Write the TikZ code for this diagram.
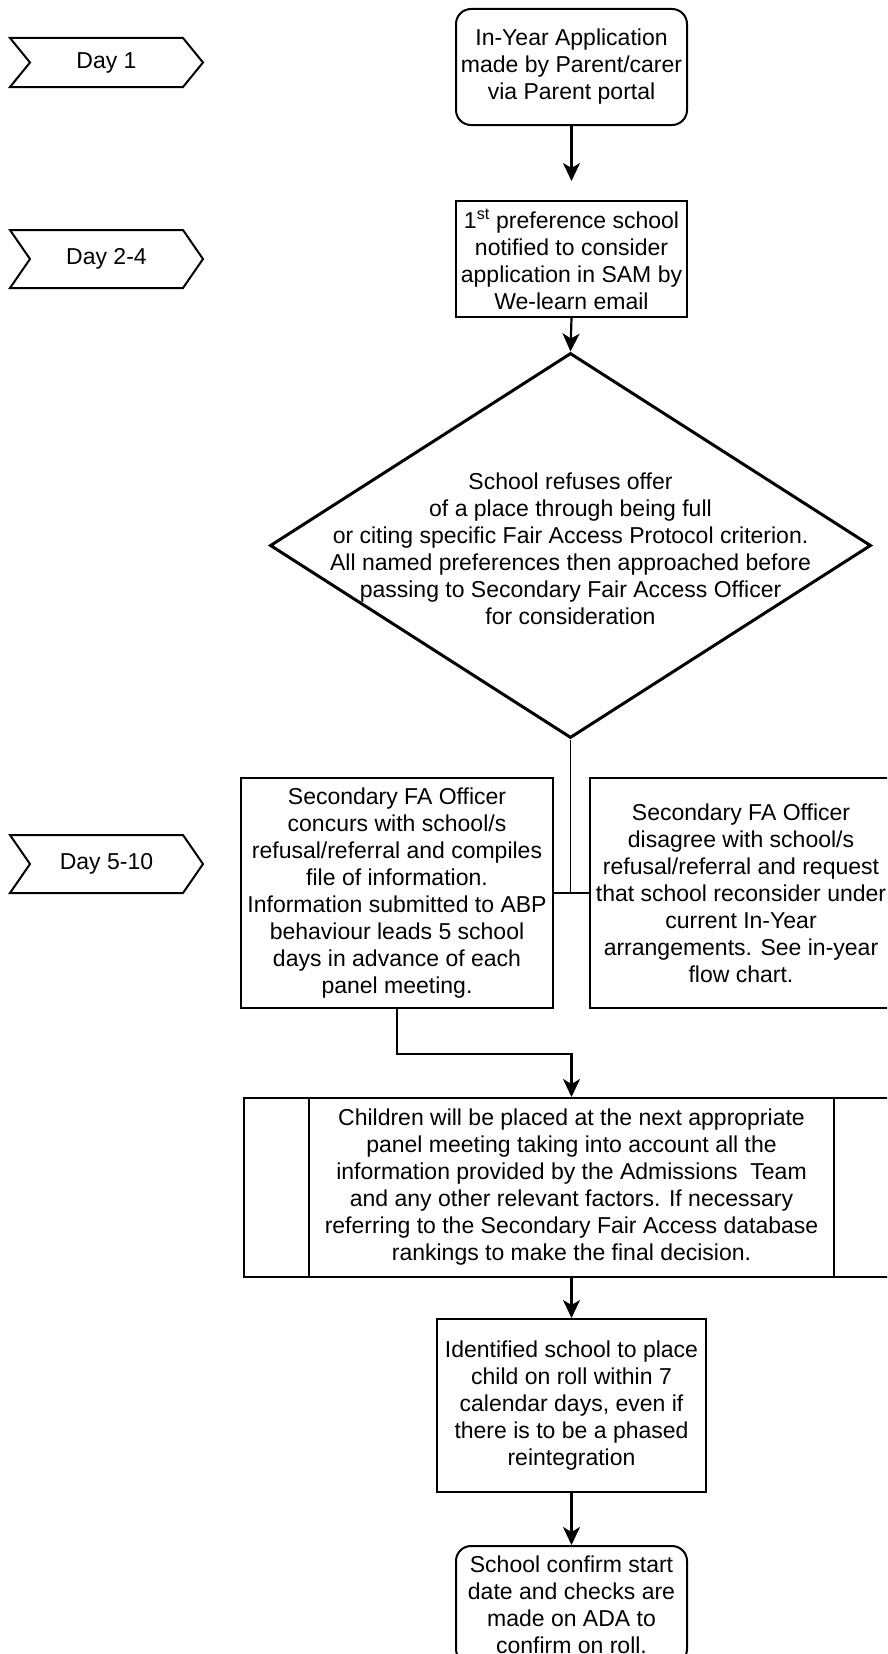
\documentclass[tikz,border=0pt]{standalone}
\usepackage{fontspec}
\setmainfont{Liberation Sans}
\usetikzlibrary{arrows.meta,shapes.geometric,calc}
\newcommand\daytag[4]{%
  \draw[dayline] (10,#2-#3) -- (183,#2-#3) -- (203,#2) -- (183,#2+#3) -- (10,#2+#3) -- (30,#2) -- cycle;
  \node[txt] (#1) at (106.5,#2) {#4};}
\begin{document}
\begin{tikzpicture}[x=1pt,y=-1pt,
  txt/.style={font=\fontsize{23}{27}\selectfont, align=center, inner sep=0pt},
  box/.style={txt, draw, line width=2pt, rectangle},
  rbox/.style={box, rounded corners=15pt},
  dayline/.style={line width=2pt, line join=miter},
  conn/.style={line width=1.6pt},
  arr/.style={line width=2.2pt, -{Stealth[length=18pt,width=17pt,inset=5pt]}}
]
\useasboundingbox (0,0) rectangle (887,1654);
\clip (0,0) rectangle (887,1654);

% day markers
\daytag{d1}{62.5}{24.5}{Day 1}
\daytag{d2}{259}{29}{Day 2-4}
\daytag{d3}{864}{29}{Day 5-10}

% main column
\node[rbox, minimum width=231pt, minimum height=116pt] (b1) at (571.5,67)
  {In-Year Application\\made by Parent/carer\\via Parent portal};
\node[box, minimum width=231pt, minimum height=116pt] (b2) at (571.5,259)
  {1\textsuperscript{st} preference school\\notified to consider\\application in SAM by\\We-learn email};

\node[diamond, draw, line width=3pt, minimum width=601pt, minimum height=385pt, inner sep=0pt, aspect=1] (dia) at (570.5,545.5) {};
\node[txt] (diat) at (570.5,549)
  {School refuses offer\\of a place through being full\\or citing specific Fair Access Protocol criterion.\\All named preferences then approached before\\passing to Secondary Fair Access Officer\\for consideration};

\node[box, minimum width=312pt, minimum height=230pt] (L) at (397,893)
  {Secondary FA Officer\\concurs with school/s\\refusal/referral and compiles\\file of information.\\Information submitted to ABP\\behaviour leads 5 school\\days in advance of each\\panel meeting.};
\node[box, minimum width=302pt, minimum height=230pt] (R) at (741,893)
  {Secondary FA Officer\\disagree with school/s\\refusal/referral and request\\that school reconsider under\\current In-Year\\arrangements. See in-year\\flow chart.};

\node[box, minimum width=655pt, minimum height=179pt] (P) at (571.5,1187.5)
  {Children will be placed at the next appropriate\\panel meeting taking into account all the\\information provided by the Admissions\ \ Team\\and any other relevant factors. If necessary\\referring to the Secondary Fair Access database\\rankings to make the final decision.};
\draw[line width=2pt] ($(P.north west)+(66,0)$) -- ($(P.south west)+(66,0)$);
\draw[line width=2pt] ($(P.north east)+(-66,0)$) -- ($(P.south east)+(-66,0)$);

\node[box, minimum width=269pt, minimum height=173pt] (B5) at (571.5,1405.5)
  {Identified school to place\\child on roll within 7\\calendar days, even if\\there is to be a phased\\reintegration};
\node[rbox, minimum width=231pt, minimum height=118pt] (F) at (571.5,1605)
  {School confirm start\\date and checks are\\made on ADA to\\confirm on roll.};

% connectors
\draw[arr, shorten >=19pt] (b1.south) -- (b2.north);
\draw[arr] (b2.south) -- (dia.north);
\draw[conn] (dia.south) -- (dia.south |- L.east);
\draw[conn] (L.east) -- (R.west);
\coordinate (bend) at (0,1054);
\draw[arr] (L.south) -- (L.south |- bend) -| (P.north);
\draw[arr] (P.south) -- (B5.north);
\draw[arr] (B5.south) -- (F.north);
\end{tikzpicture}
\end{document}
